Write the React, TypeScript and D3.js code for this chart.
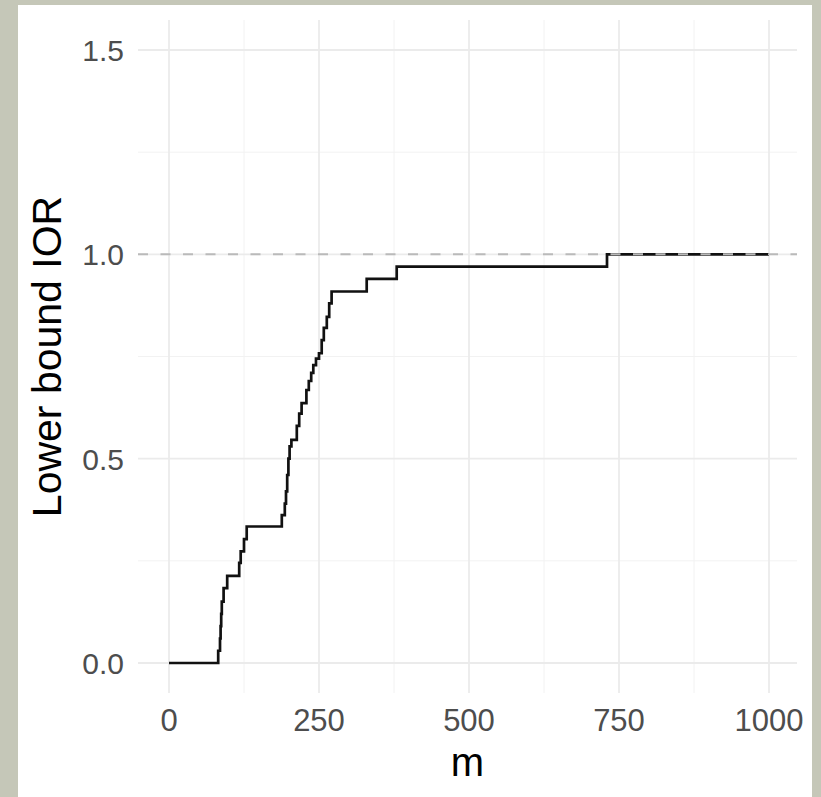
import * as d3 from 'd3';
import * as React from 'react';
import { useEffect, useRef } from 'react';

// step positions (m) and lower bound IOR reached at each step
const mSteps = [0, 82, 85, 86, 87, 88, 91, 97, 117, 119.5, 125, 129.5, 188, 193, 195, 197, 199, 201, 204, 213, 217, 221, 229, 233, 237, 240.5, 245, 250, 254.5, 258, 263, 267, 271, 329.5, 379.5, 730, 1000];
const iorSteps = [0, 0.03, 0.06, 0.09, 0.12, 0.15, 0.183, 0.213, 0.245, 0.273, 0.303, 0.334, 0.362, 0.39, 0.42, 0.46, 0.5, 0.53, 0.546, 0.58, 0.61, 0.636, 0.668, 0.69, 0.71, 0.729, 0.745, 0.758, 0.79, 0.82, 0.847, 0.88, 0.909, 0.94, 0.97, 1.0, 1.0];

const xTicks = [0, 250, 500, 750, 1000];
const xMinor = [125, 375, 625, 875];
const yTicks = [0, 0.5, 1.0, 1.5];
const yMinor = [0.25, 0.75, 1.25];
const refLine = 1.0;

const W = 821, H = 797;

function App() {
  const ref = useRef<SVGSVGElement | null>(null);

  useEffect(() => {
    const svg = d3.select(ref.current);
    svg.selectAll('*').remove();

    const panel = { left: 138, right: 797, top: 20, bottom: 693 };

    const x = d3.scaleLinear().domain([0, 1000]).range([169, 769]);
    const y = d3.scaleLinear().domain([0, 1.5]).range([663, 50]);

    svg.append('rect').attr('width', W).attr('height', H).attr('fill', '#c5c7b8');
    svg.append('rect').attr('x', 18).attr('y', 5).attr('width', 794).attr('height', 792).attr('fill', '#ffffff');

    const grid = svg.append('g');
    // minor grid
    grid.selectAll('.xminor').data(xMinor).enter().append('line')
      .attr('x1', d => x(d)).attr('x2', d => x(d))
      .attr('y1', panel.top).attr('y2', panel.bottom)
      .attr('stroke', '#f2f2f2').attr('stroke-width', 1);
    grid.selectAll('.yminor').data(yMinor).enter().append('line')
      .attr('y1', d => y(d)).attr('y2', d => y(d))
      .attr('x1', panel.left).attr('x2', panel.right)
      .attr('stroke', '#f2f2f2').attr('stroke-width', 1);
    // major grid
    grid.selectAll('.xmajor').data(xTicks).enter().append('line')
      .attr('x1', d => x(d)).attr('x2', d => x(d))
      .attr('y1', panel.top).attr('y2', panel.bottom)
      .attr('stroke', '#ebebeb').attr('stroke-width', 1.8);
    grid.selectAll('.ymajor').data(yTicks).enter().append('line')
      .attr('y1', d => y(d)).attr('y2', d => y(d))
      .attr('x1', panel.left).attr('x2', panel.right)
      .attr('stroke', '#ebebeb').attr('stroke-width', 1.8);

    const pts: [number, number][] = mSteps.map((m, i) => [m, iorSteps[i]]);
    const line = d3.line<[number, number]>()
      .x(d => x(d[0]))
      .y(d => y(d[1]))
      .curve(d3.curveStepAfter);

    svg.append('path')
      .attr('d', line(pts))
      .attr('fill', 'none')
      .attr('stroke', '#111111')
      .attr('stroke-width', 2.7);

    svg.append('line')
      .attr('x1', panel.left).attr('x2', panel.right)
      .attr('y1', y(refLine)).attr('y2', y(refLine))
      .attr('stroke', '#bababa')
      .attr('stroke-width', 2)
      .attr('stroke-dasharray', '10,12.5');

    const font = '"Liberation Sans", Arial, Helvetica, sans-serif';

    svg.selectAll('.ylab').data(yTicks).enter().append('text')
      .attr('x', 124).attr('y', d => y(d) + 11)
      .attr('text-anchor', 'end')
      .attr('font-family', font).attr('font-size', 30)
      .attr('fill', '#4d4d4d')
      .text(d => d.toFixed(1));

    svg.selectAll('.xlab').data(xTicks).enter().append('text')
      .attr('x', d => x(d)).attr('y', 731)
      .attr('text-anchor', 'middle')
      .attr('font-family', font).attr('font-size', 31)
      .attr('fill', '#4d4d4d')
      .text(d => String(d));

    svg.append('text')
      .attr('x', (panel.left + panel.right) / 2).attr('y', 776)
      .attr('text-anchor', 'middle')
      .attr('font-family', font).attr('font-size', 40)
      .attr('fill', '#000')
      .text('m');

    svg.append('text')
      .attr('transform', 'translate(61,' + (panel.top + panel.bottom) / 2 + ') rotate(-90)')
      .attr('text-anchor', 'middle')
      .attr('font-family', font).attr('font-size', 41)
      .attr('fill', '#000')
      .text('Lower bound IOR');
  }, []);

  return (
    <div style={{ position: 'absolute', left: 0, top: 0 }}>
      <svg ref={ref} width={W} height={H} style={{ display: 'block' }}></svg>
    </div>
  );
}

export default App;
